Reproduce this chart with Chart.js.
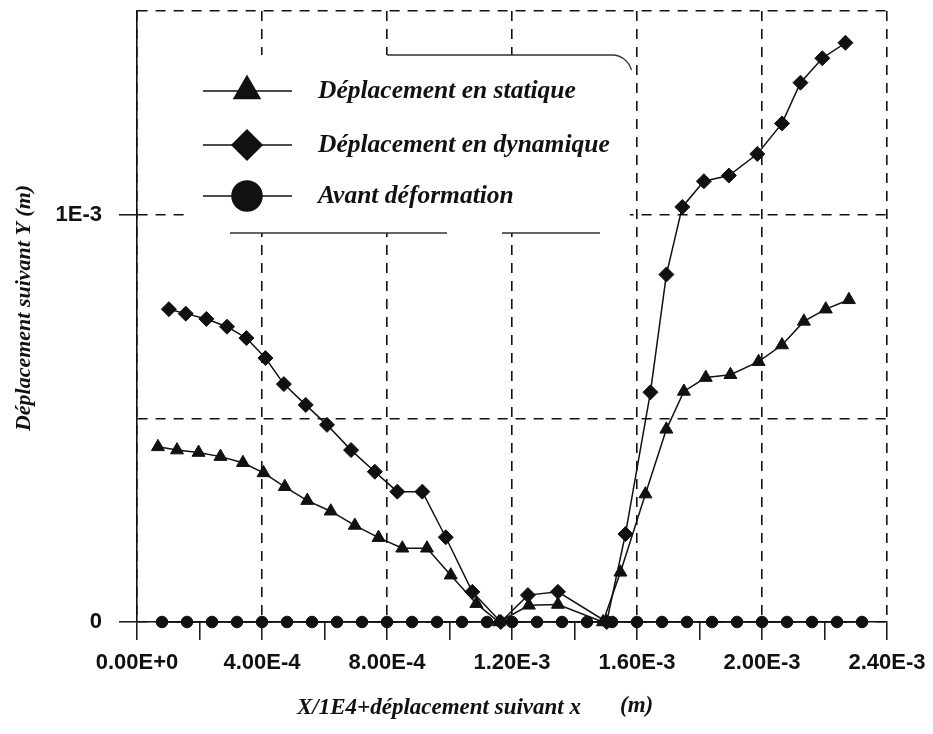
<!DOCTYPE html>
<html>
<head>
<meta charset="utf-8">
<script src="https://cdn.jsdelivr.net/npm/chart.js@4.4.0/dist/chart.umd.min.js"></script>
<style>
  html, body { margin: 0; padding: 0; background: #fff; }
  #myparent { width: 933px; height: 734px; }
</style>
</head>
<body>
<div id="myparent"><canvas id="mychart" width="933" height="734"></canvas></div>
<script>
// values, in units of 1E-4 m
var seriesNames = ['Déplacement en statique', 'Déplacement en dynamique', 'Avant déformation'];

var staticX = [0.67, 1.28, 1.97, 2.67, 3.39, 4.05, 4.73, 5.45, 6.20, 6.97, 7.73, 8.49, 9.28, 10.04, 10.86,
               11.58, 12.54, 13.47, 14.91, 15.47, 16.27, 16.94, 17.50, 18.20, 18.99, 19.89, 20.64, 21.34, 22.04, 22.78];
var staticY = [4.30, 4.22, 4.16, 4.06, 3.91, 3.66, 3.32, 2.98, 2.72, 2.37, 2.07, 1.81, 1.81, 1.15, 0.45,
               0.00, 0.41, 0.43, 0.00, 1.22, 3.14, 4.73, 5.66, 6.00, 6.07, 6.39, 6.80, 7.38, 7.68, 7.91];

var dynX = [1.02, 1.56, 2.22, 2.88, 3.50, 4.11, 4.70, 5.40, 6.08, 6.85, 7.61, 8.33, 9.13, 9.88, 10.73,
            11.64, 12.51, 13.47, 15.03, 15.63, 16.43, 16.94, 17.45, 18.14, 18.94, 19.85, 20.64, 21.23, 21.93, 22.67];
var dynY = [7.68, 7.57, 7.44, 7.25, 6.97, 6.48, 5.84, 5.33, 4.84, 4.22, 3.69, 3.20, 3.20, 2.08, 0.74,
            0.00, 0.66, 0.74, 0.00, 2.16, 5.64, 8.53, 10.19, 10.82, 10.96, 11.49, 12.24, 13.24, 13.84, 14.22];

var avantX = [0.8, 1.6, 2.4, 3.2, 4.0, 4.8, 5.6, 6.4, 7.2, 8.0, 8.8, 9.6, 10.4, 11.2, 12.0,
              12.8, 13.6, 14.4, 15.2, 16.0, 16.8, 17.6, 18.4, 19.2, 20.0, 20.8, 21.6, 22.4, 23.2];
var avantY = [0, 0, 0, 0, 0, 0, 0, 0, 0, 0, 0, 0, 0, 0, 0,
              0, 0, 0, 0, 0, 0, 0, 0, 0, 0, 0, 0, 0, 0];

var xTickValues = [0, 2e-4, 4e-4, 6e-4, 8e-4, 1e-3, 1.2e-3, 1.4e-3, 1.6e-3, 1.8e-3, 2e-3, 2.2e-3, 2.4e-3];
var xTickLabels = ['0.00E+0', '', '4.00E-4', '', '8.00E-4', '', '1.20E-3', '', '1.60E-3', '', '2.00E-3', '', '2.40E-3'];
var yTickValues = [0, 5e-4, 1e-3, 1.5e-3];
var yTickLabels = ['0', '', '1E-3', ''];

var xTitle = 'X/1E4+déplacement suivant x';
var xUnit = '(m)';
var yTitle = 'Déplacement suivant Y (m)';

function toPoints(xs, ys) {
    return xs.map(function(x, i) { return {x: x * 1e-4, y: ys[i] * 1e-4}; });
}

var ink = '#111';

// legend drawn in a white box over the grid, like the original
var boxLegend = {
    id: 'boxLegend',
    afterDraw: function(chart) {
        var ctx = chart.ctx;
        var rows = [91, 145, 196];
        var sizes = [15, 15, 15];
        ctx.save();
        ctx.fillStyle = '#fff';
        ctx.beginPath();
        ctx.roundRect(186, 55, 444, 178, 20);
        ctx.fill();
        // the scanned box only keeps bits of its border
        ctx.strokeStyle = '#333';
        ctx.lineWidth = 1.3;
        ctx.beginPath();
        ctx.moveTo(387, 55); ctx.lineTo(612, 55);
        ctx.arc(612, 75, 20, -Math.PI / 2, -0.25);
        ctx.stroke();
        ctx.beginPath();
        ctx.moveTo(230, 233); ctx.lineTo(447, 233);
        ctx.moveTo(502, 233); ctx.lineTo(600, 233);
        ctx.stroke();
        chart.data.datasets.forEach(function(ds, i) {
            var y = rows[i];
            ctx.strokeStyle = ink;
            ctx.lineWidth = 1.5;
            ctx.beginPath(); ctx.moveTo(203, y); ctx.lineTo(292, y); ctx.stroke();
            ctx.fillStyle = ink;
            Chart.helpers.drawPoint(ctx, {pointStyle: ds.pointStyle, radius: sizes[i], borderWidth: 1, rotation: 0}, 247, y);
            ctx.font = 'italic bold 25.5px "Liberation Serif"';
            ctx.textBaseline = 'middle';
            ctx.textAlign = 'left';
            ctx.fillText(ds.label, 318, y);
        });
        ctx.restore();
    }
};

var axisTitles = {
    id: 'axisTitles',
    afterDraw: function(chart) {
        var ctx = chart.ctx;
        ctx.save();
        ctx.fillStyle = ink;
        ctx.textBaseline = 'middle';
        ctx.font = 'italic bold 23px "Liberation Serif"';
        ctx.textAlign = 'left';
        ctx.fillText(xTitle, 297, 708);
        ctx.fillText(xUnit, 620, 706);
        ctx.translate(24, 308);
        ctx.rotate(-Math.PI / 2);
        ctx.textAlign = 'center';
        ctx.font = 'italic bold 22px "Liberation Serif"';
        ctx.fillText(yTitle, 0, 0);
        ctx.restore();
    }
};

var ctx = document.getElementById('mychart').getContext('2d');
var myChart = new Chart(ctx, {
    type: 'scatter',
    data: {
        datasets: [
            {
                label: seriesNames[0],
                data: toPoints(staticX, staticY),
                showLine: true,
                clip: false,
                pointStyle: 'triangle',
                pointRadius: 7.5,
                borderColor: ink,
                backgroundColor: ink,
                borderWidth: 1.5,
                pointBorderWidth: 1
            },
            {
                label: seriesNames[1],
                data: toPoints(dynX, dynY),
                showLine: true,
                clip: false,
                pointStyle: 'rectRot',
                pointRadius: 7.5,
                borderColor: ink,
                backgroundColor: ink,
                borderWidth: 1.5,
                pointBorderWidth: 1
            },
            {
                label: seriesNames[2],
                data: toPoints(avantX, avantY),
                showLine: true,
                clip: false,
                pointStyle: 'circle',
                pointRadius: 5.8,
                borderColor: ink,
                backgroundColor: ink,
                borderWidth: 1.5,
                pointBorderWidth: 1
            }
        ]
    },
    options: {
        responsive: false,
        animation: false,
        layout: { padding: { left: 0, right: 46, top: 11, bottom: 0 } },
        plugins: {
            legend: { display: false },
            tooltip: { enabled: false }
        },
        scales: {
            x: {
                type: 'linear',
                min: 0,
                max: 2.4e-3,
                afterBuildTicks: function(s) { s.ticks = xTickValues.map(function(v) { return {value: v}; }); },
                afterFit: function(s) { s.height = 112; s.paddingLeft = 0; s.paddingRight = 0; },
                grid: {
                    color: function(c) { return c.index % 2 === 0 ? ink : 'rgba(0,0,0,0)'; },
                    lineWidth: 1.6,
                    tickLength: 18,
                    tickColor: ink,
                    tickWidth: 1.5
                },
                border: { display: true, color: ink, width: 1.6, dash: [10, 8] },
                ticks: {
                    autoSkip: false,
                    maxRotation: 0,
                    padding: 10,
                    color: ink,
                    font: { family: 'Liberation Sans', weight: 'bold', size: 22 },
                    callback: function(v, i) { return xTickLabels[i]; }
                }
            },
            y: {
                type: 'linear',
                min: 0,
                max: 1.5e-3,
                afterBuildTicks: function(s) { s.ticks = yTickValues.map(function(v) { return {value: v}; }); },
                afterFit: function(s) { s.width = 137; s.paddingTop = 0; s.paddingBottom = 0; },
                grid: {
                    color: ink,
                    lineWidth: 1.6,
                    tickLength: 18,
                    tickColor: function(c) { return yTickLabels[c.index] ? ink : 'rgba(0,0,0,0)'; },
                    tickWidth: 1.5
                },
                border: { display: true, color: ink, width: 1.6, dash: [10, 8] },
                ticks: {
                    padding: 17,
                    color: ink,
                    font: { family: 'Liberation Sans', weight: 'bold', size: 22 },
                    callback: function(v, i) { return yTickLabels[i]; }
                }
            }
        }
    },
    plugins: [boxLegend, axisTitles]
});
</script>
</body>
</html>
